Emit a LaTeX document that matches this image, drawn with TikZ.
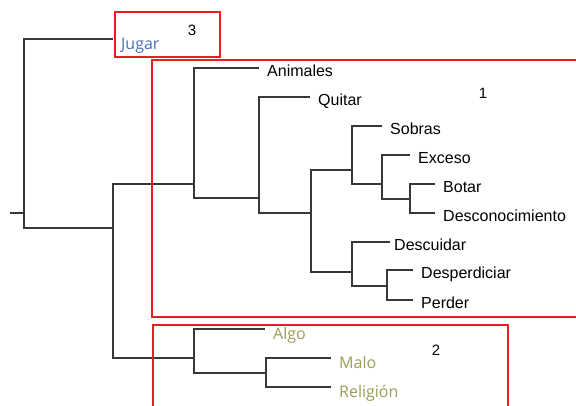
\documentclass[tikz,border=0pt]{standalone}
\usepackage{fontspec}
\setmainfont{Liberation Sans}
\newfontfamily\segoe{Open Sans}
\usepackage{tikz}
\usetikzlibrary{calc,positioning}
\definecolor{jblue}{RGB}{72,112,192}
\definecolor{olive}{RGB}{155,155,90}
\definecolor{grpred}{RGB}{237,28,36}

\begin{document}
\begin{tikzpicture}[x=1pt, y=-1pt]
\tikzstyle{leaf}=[anchor=west, inner xsep=8pt, inner ysep=0pt,
                  text height=16pt, text depth=0pt, font=\fontsize{16}{19}\selectfont]
\tikzstyle{cleaf}=[leaf, text height=20pt, font=\segoe\fontsize{16}{19}\selectfont]
\tikzstyle{edge}=[draw=black!78, line width=1.5pt]
\tikzstyle{grp}=[draw=grpred, line width=2.3pt]
\tikzstyle{num}=[font=\fontsize{15}{18}\selectfont, inner sep=0pt]
\useasboundingbox (0,0) rectangle (576,405);
%internal joins
\coordinate (stub) at (10,213);
\coordinate (r) at (24,213);
\coordinate (n1) at (113,228);
\coordinate (n2) at (194,184);
\coordinate (n3) at (259,198);
\coordinate (n4) at (311,213);
\coordinate (n5) at (352,170);
\coordinate (n6) at (382,184);
\coordinate (n7) at (410,199);
\coordinate (n8) at (352,272);
\coordinate (n9) at (387,286);
\coordinate (n10) at (194,358);
\coordinate (n11) at (266,373);
%leaves
\node[cleaf, text=jblue] (jugar) at (113,39) {Jugar};
\node[leaf] (animales) at (259,68) {Animales};
\node[leaf] (quitar) at (310,97) {Quitar};
\node[leaf] (sobras) at (382,126) {Sobras};
\node[leaf] (exceso) at (410,155) {Exceso};
\node[leaf] (botar) at (435,184) {Botar};
\node[leaf] (descon) at (435,213) {Desconocimiento};
\node[leaf, inner xsep=4pt] (descuidar) at (390,242) {Descuidar};
\node[leaf] (desperd) at (413,270) {Desperdiciar};
\node[leaf] (perder) at (413,300) {Perder};
\node[cleaf, text=olive] (algo) at (265,329) {Algo};
\node[cleaf, text=olive] (malo) at (331,358) {Malo};
\node[cleaf, text=olive] (religion) at (331,387) {Religión};
\draw[edge] (stub) -- (r);
\foreach \i/\j in {r/jugar.west, r/n1, n1/n2, n1/n10, n2/animales.west, n2/n3,
  n3/quitar.west, n3/n4, n4/n5, n4/n8, n5/sobras.west, n5/n6, n6/exceso.west, n6/n7,
  n7/botar.west, n7/descon.west, n8/descuidar.west, n8/n9, n9/desperd.west,
  n9/perder.west, n10/algo.west, n10/n11, n11/malo.west, n11/religion.west}{\draw[edge] (\i) |- (\j);}
%groups
\draw[grp] (115,12) rectangle (220,57);
\draw[grp] (152,60) rectangle (590,317);
\draw[grp] (153,325) rectangle (508,420);
\node[num] (g3) at (192,30) {3};
\node[num] (g1) at (483,93) {1};
\node[num] (g2) at (436,350) {2};
\end{tikzpicture}
\end{document}
